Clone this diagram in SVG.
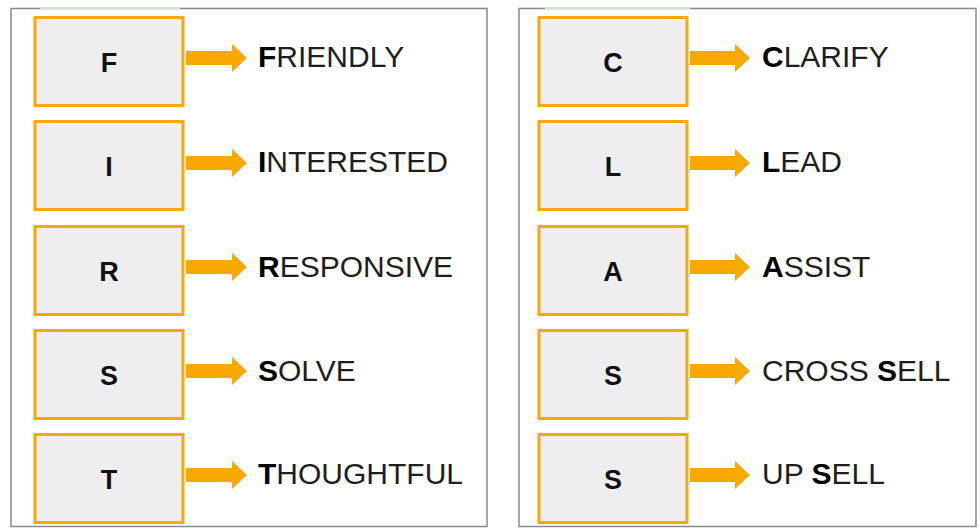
<svg xmlns="http://www.w3.org/2000/svg" width="979" height="529" viewBox="0 0 979 529">
<style>
.panel{fill:#fff;stroke:#8a8a8a;stroke-width:1.5}
.box{fill:#EEEEF1;stroke:#F5AA0A;stroke-width:3}
.ltr{font-family:"Liberation Sans",Arial,sans-serif;font-weight:bold;font-size:27px;fill:#111;text-anchor:middle}
.lbl{font-family:"Liberation Sans",Arial,sans-serif;font-size:30px;fill:#1e1e1e}
.lbl tspan.b{font-weight:bold;fill:#000}
.arr{fill:#F9A800}
</style>
<rect width="979" height="529" fill="#fff"/>
<rect class="panel" x="11" y="8.5" width="476" height="518"/>
<rect class="panel" x="519" y="8.5" width="457" height="518"/>
<line x1="40" y1="8.5" x2="180" y2="8.5" stroke="#cfe8c8" stroke-width="1"/>
<line x1="545" y1="8.5" x2="690" y2="8.5" stroke="#cfe8c8" stroke-width="1"/>

<g id="node-F"><rect class="box" x="35" y="17.5" width="148" height="88"/><text class="ltr" x="109" y="72">F</text></g>
<g id="node-I"><rect class="box" x="35" y="121.5" width="148" height="88"/><text class="ltr" x="109" y="176">I</text></g>
<g id="node-R"><rect class="box" x="35" y="226.5" width="148" height="88"/><text class="ltr" x="109" y="281">R</text></g>
<g id="node-S1"><rect class="box" x="35" y="330.5" width="148" height="88"/><text class="ltr" x="109" y="385">S</text></g>
<g id="node-T"><rect class="box" x="35" y="434.5" width="148" height="88"/><text class="ltr" x="109" y="489">T</text></g>

<g id="node-C"><rect class="box" x="539" y="17.5" width="148" height="88"/><text class="ltr" x="613" y="72">C</text></g>
<g id="node-L"><rect class="box" x="539" y="121.5" width="148" height="88"/><text class="ltr" x="613" y="176">L</text></g>
<g id="node-A"><rect class="box" x="539" y="226.5" width="148" height="88"/><text class="ltr" x="613" y="281">A</text></g>
<g id="node-S2"><rect class="box" x="539" y="330.5" width="148" height="88"/><text class="ltr" x="613" y="385">S</text></g>
<g id="node-S3"><rect class="box" x="539" y="434.5" width="148" height="88"/><text class="ltr" x="613" y="489">S</text></g>

<g id="label-friendly"><text class="lbl" x="258" y="67"><tspan class="b">F</tspan>RIENDLY</text></g>
<g id="label-interested"><text class="lbl" x="258" y="172"><tspan class="b">I</tspan>NTERESTED</text></g>
<g id="label-responsive"><text class="lbl" x="258" y="277"><tspan class="b">R</tspan>ESPONSIVE</text></g>
<g id="label-solve"><text class="lbl" x="258" y="381"><tspan class="b">S</tspan>OLVE</text></g>
<g id="label-thoughtful"><text class="lbl" x="258" y="484"><tspan class="b">T</tspan>HOUGHTFUL</text></g>

<g id="label-clarify"><text class="lbl" x="762" y="67"><tspan class="b">C</tspan>LARIFY</text></g>
<g id="label-lead"><text class="lbl" x="762" y="172"><tspan class="b">L</tspan>EAD</text></g>
<g id="label-assist"><text class="lbl" x="762" y="277"><tspan class="b">A</tspan>SSIST</text></g>
<g id="label-crosssell"><text class="lbl" x="762" y="381">CROSS <tspan class="b">S</tspan>ELL</text></g>
<g id="label-upsell"><text class="lbl" x="762" y="484">UP <tspan class="b">S</tspan>ELL</text></g>

<g id="connectors">
<polygon class="arr" points="186,51 232,51 232,44 247,58 232,72 232,65 186,65"/>
<polygon class="arr" points="186,156 232,156 232,149 247,163 232,177 232,170 186,170"/>
<polygon class="arr" points="186,260 232,260 232,253 247,267 232,281 232,274 186,274"/>
<polygon class="arr" points="186,364 232,364 232,357 247,371 232,385 232,378 186,378"/>
<polygon class="arr" points="186,468 232,468 232,461 247,475 232,489 232,482 186,482"/>
<polygon class="arr" points="690,51 735,51 735,44 750,58 735,72 735,65 690,65"/>
<polygon class="arr" points="690,156 735,156 735,149 750,163 735,177 735,170 690,170"/>
<polygon class="arr" points="690,260 735,260 735,253 750,267 735,281 735,274 690,274"/>
<polygon class="arr" points="690,364 735,364 735,357 750,371 735,385 735,378 690,378"/>
<polygon class="arr" points="690,468 735,468 735,461 750,475 735,489 735,482 690,482"/>
</g>
</svg>
